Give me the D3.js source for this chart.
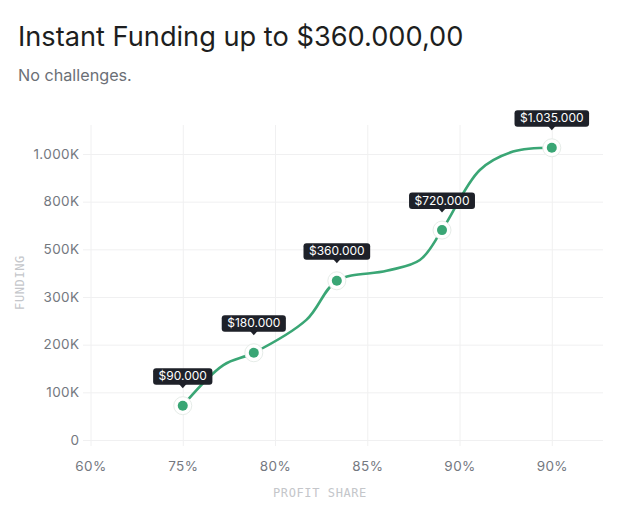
<!DOCTYPE html>
<html><head><meta charset="utf-8">
<script src="https://cdn.jsdelivr.net/npm/d3@7"></script>
<style>body{margin:0;background:#fff;} svg{display:block;}</style>
</head><body><svg id="chart" width="637" height="514"></svg>
<script>
const titleText = "Instant Funding up to $360.000,00";
const subtitleText = "No challenges.";
const xTitle = "PROFIT SHARE";
const yTitle = "FUNDING";
const xTickLabels = ["60%", "75%", "80%", "85%", "90%", "90%"];
const yTickValues = [0, 100000, 200000, 300000, 500000, 800000, 1000000];
const yTickLabels = ["0", "100K", "200K", "300K", "500K", "800K", "1.000K"];
// funding tiers: position on the profit-share axis (tick-index units) and funding
const tierProfit = [1.0, 1.77, 2.67, 3.81, 5.0];
const tierFunding = [72000, 183000, 368000, 621000, 1026000];
const tierLabels = ["$90.000", "$180.000", "$360.000", "$720.000", "$1.035.000"];
// points (it passes through the tiers)
const curveProfit = [1.0, 1.44, 1.77, 2.34, 2.67, 3.21, 3.57, 3.81, 4.22, 4.58, 5.0];
const curveFunding = [72000, 157000, 183000, 252000, 368000, 410000, 455000, 621000, 933000, 1010000, 1026000];

const PL = 90.5, PR = 603, PT = 125, PB = 440;
const step = 47.67;
const green = "#3aa675";
const font = "Inter, 'Noto Sans', sans-serif";
const mono = "'DejaVu Sans Mono', 'Liberation Mono', monospace";

const svg = d3.select("#chart");

svg.append("text").attr("x", 18).attr("y", 46).text(titleText)
  .attr("font-family", font).attr("font-size", 27.2).attr("fill", "#1d1e20");
svg.append("text").attr("x", 18).attr("y", 81).text(subtitleText)
  .attr("font-family", font).attr("font-size", 16.2).attr("fill", "#6b6f76");

const x = d3.scaleLinear().domain([0, (PR - PL) / 92.26]).range([PL, PR]);
const yDomain = yTickValues.concat([1121700]);
const yRange = yTickValues.map((_, i) => PB - i * step).concat([PT]);
const y = d3.scaleLinear().domain(yDomain).range(yRange);

// horizontal grid
svg.append("g").attr("transform", `translate(${PR},0)`)
  .call(d3.axisRight(y).tickValues(yTickValues).tickSize(-(PR - 83)).tickFormat(""))
  .call(g => g.select(".domain").remove())
  .call(g => g.selectAll("line").attr("stroke", "#f0f0f1"));
// vertical grid
svg.append("g").attr("transform", `translate(0,${PT})`)
  .call(d3.axisTop(x).tickValues(d3.range(xTickLabels.length)).tickSize(-(446 - PT)).tickFormat(""))
  .call(g => g.select(".domain").remove())
  .call(g => g.selectAll("line").attr("stroke", "#f0f0f1"));

// y labels
svg.append("g").attr("transform", `translate(${PL},0)`)
  .call(d3.axisLeft(y).tickValues(yTickValues).tickSize(0).tickPadding(11)
    .tickFormat((d, i) => yTickLabels[i]))
  .call(g => g.select(".domain").remove())
  .call(g => g.selectAll("text").attr("font-family", font).attr("font-size", 13.5)
    .attr("fill", "#74787f").attr("letter-spacing", "0.4px"));
// x labels
svg.append("g").attr("transform", `translate(0,${PB})`)
  .call(d3.axisBottom(x).tickValues(d3.range(xTickLabels.length)).tickSize(0).tickPadding(21)
    .tickFormat((d, i) => xTickLabels[i]))
  .call(g => g.select(".domain").remove())
  .call(g => g.selectAll("text").attr("font-family", font).attr("font-size", 13.5)
    .attr("fill", "#74787f").attr("letter-spacing", "0.4px"));

svg.append("text").attr("x", 320).attr("y", 497).attr("text-anchor", "middle").text(xTitle)
  .attr("font-family", mono).attr("font-size", 12).attr("fill", "#c4c6ca").attr("letter-spacing", "0.6px");
svg.append("text").attr("transform", `translate(24,${(PT + PB) / 2}) rotate(-90)`)
  .attr("text-anchor", "middle").text(yTitle)
  .attr("font-family", mono).attr("font-size", 12).attr("fill", "#c4c6ca").attr("letter-spacing", "0.6px");

// line
const curvePts = curveProfit.map((p, i) => [p, curveFunding[i]]);
svg.append("path").datum(curvePts)
  .attr("d", d3.line().x(d => x(d[0])).y(d => y(d[1])).curve(d3.curveCatmullRom.alpha(0.5)))
  .attr("fill", "none").attr("stroke", green).attr("stroke-width", 2.6).attr("stroke-linecap", "round");

// markers
const tiers = tierProfit.map((p, i) => ({ p, f: tierFunding[i], label: tierLabels[i] }));
const mk = svg.append("g").selectAll("g").data(tiers).join("g")
  .attr("transform", d => `translate(${x(d.p)},${y(d.f)})`);
mk.append("circle").attr("r", 9).attr("fill", "#fff").attr("stroke", "#e6ece8").attr("stroke-width", 1);
mk.append("circle").attr("r", 5).attr("fill", green);

// tooltips
const tip = svg.append("g").selectAll("g").data(tiers).join("g")
  .attr("transform", d => `translate(${x(d.p)},${y(d.f) - 21})`);
tip.append("path").attr("d", "M-4,-1L0,3.5L4,-1Z").attr("fill", "#1e2129");
const tt = tip.append("text").attr("text-anchor", "middle").attr("y", -4.5).text(d => d.label)
  .attr("font-family", font).attr("font-size", 12).attr("fill", "#fff");
tt.each(function () {
  const b = this.getBBox();
  d3.select(this.parentNode).insert("rect", "text")
    .attr("x", b.x - 5.5).attr("y", -16.5).attr("width", b.width + 11).attr("height", 16.5)
    .attr("rx", 3).attr("fill", "#1e2129");
});
</script></body></html>
